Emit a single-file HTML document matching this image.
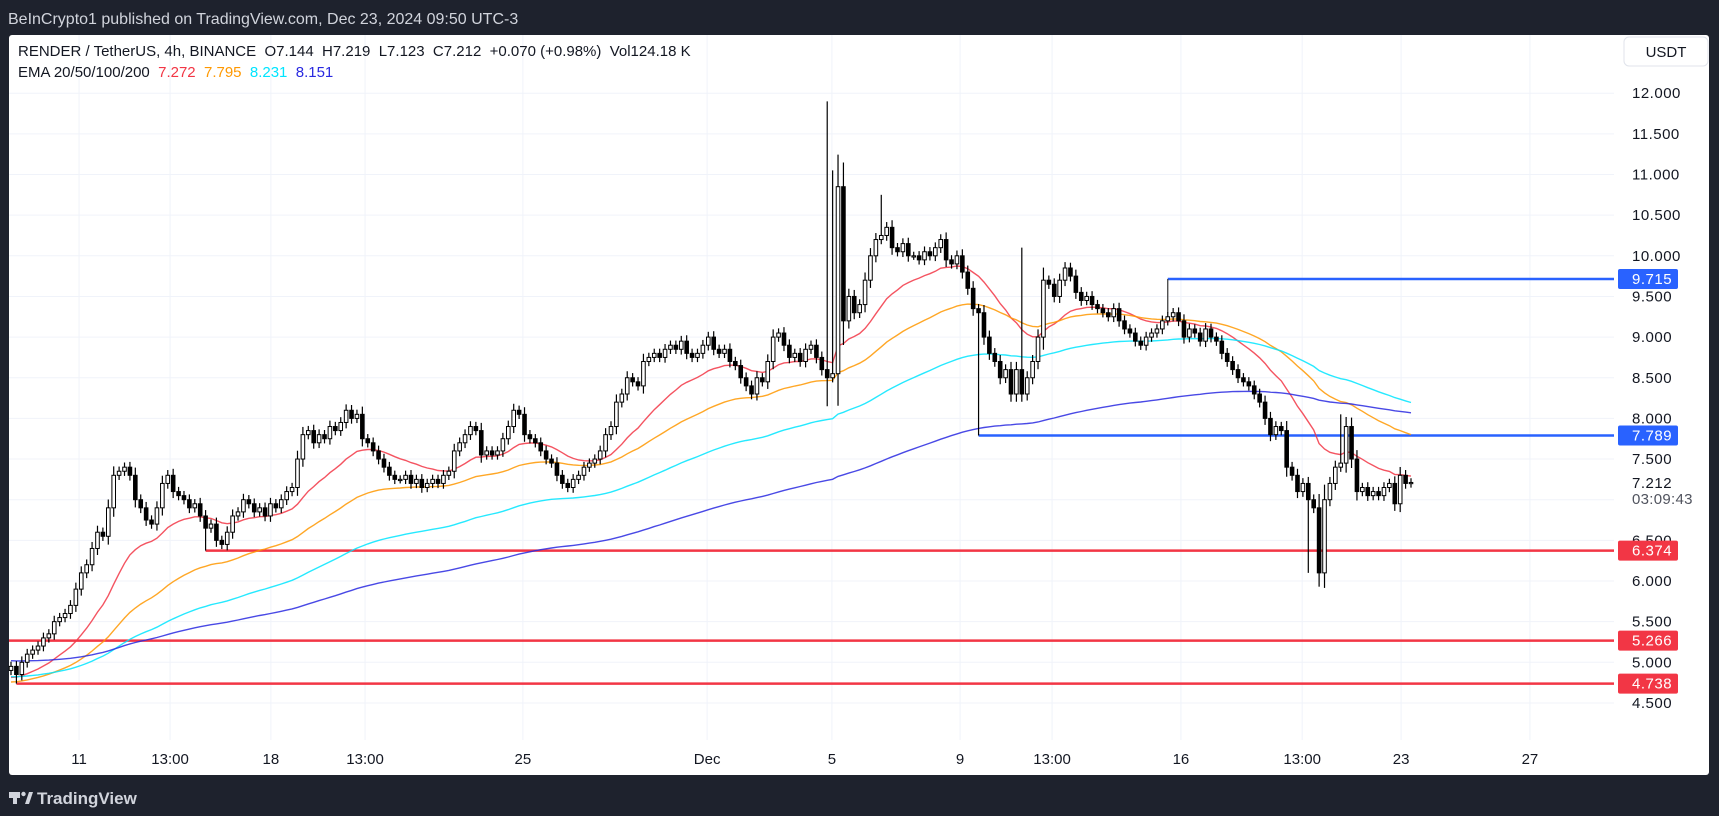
<!DOCTYPE html>
<html><head><meta charset="utf-8">
<style>
body{margin:0;background:#1e222d;font-family:"Liberation Sans",sans-serif;}
#wrap{position:relative;width:1719px;height:816px;overflow:hidden;background:#1e222d;}
</style></head>
<body>
<div id="wrap">
<svg id="svg" width="1719" height="816" xmlns="http://www.w3.org/2000/svg"></svg>
</div>
<script>
const closes=[4.95,4.85,5.0,5.1,5.15,5.2,5.3,5.35,5.5,
5.55,5.6,5.7,5.9,6.1,6.2,6.4,6.6,6.55,6.9,7.3,
7.35,7.4,7.3,7.0,6.9,6.75,6.7,6.9,7.2,7.3,7.1,
7.05,7.0,6.9,6.95,6.8,6.65,6.7,6.5,6.45,6.6,6.8,
6.85,7.0,6.95,6.85,6.9,6.8,6.95,6.9,7.0,7.1,
7.15,7.5,7.8,7.85,7.7,7.8,7.75,7.9,7.85,7.95,
8.1,8.0,8.05,7.75,7.7,7.6,7.5,7.4,7.3,7.25,
7.25,7.3,7.2,7.25,7.15,7.2,7.25,7.2,7.3,7.35,
7.6,7.7,7.8,7.9,7.85,7.55,7.6,7.55,7.6,7.75,
7.9,8.1,8.05,7.8,7.75,7.7,7.6,7.5,7.45,7.3,
7.2,7.15,7.25,7.3,7.4,7.45,7.5,7.6,7.8,7.9,
8.2,8.3,8.5,8.45,8.4,8.7,8.75,8.8,8.75,8.85,
8.9,8.85,8.95,8.8,8.75,8.8,8.9,9.0,8.85,8.8,
8.85,8.7,8.65,8.5,8.4,8.3,8.5,8.45,8.7,9.0,
9.05,8.9,8.75,8.8,8.7,8.85,8.9,8.75,8.6,8.5,
8.55,10.85,9.2,9.5,9.3,9.4,9.7,10.0,10.2,10.25,
10.35,10.1,10.05,10.15,10.0,10.0,9.95,10.05,10.0,10.1,
10.2,9.95,9.9,10.0,9.8,9.6,9.35,9.3,9.0,8.8,
8.7,8.5,8.6,8.3,8.6,8.3,8.5,8.7,9.0,9.7,
9.65,9.5,9.7,9.85,9.75,9.55,9.45,9.5,9.4,9.35,
9.3,9.25,9.35,9.2,9.1,9.05,8.95,8.9,9.0,9.05,
9.1,9.2,9.25,9.3,9.2,9.0,9.1,9.05,8.95,9.1,
9.0,8.95,8.8,8.7,8.6,8.5,8.45,8.4,8.3,8.2,
8.0,7.8,7.9,7.85,7.4,7.3,7.1,7.2,7.0,6.9,
6.1,7.0,7.2,7.4,7.45,7.9,7.5,7.1,7.15,7.05,
7.1,7.05,7.15,7.2,6.95,7.3,7.2,7.212];
const highOverrides={151:11.9,152:11.05,161:10.75,187:10.1,246:8.05};
const lowOverrides={36:6.374,151:8.15,179:7.789,240:6.1,1:4.738};
const emaPeriods=[20,50,100,200];
const emaSeeds=[4.8,4.75,4.82,5.02];
const emaColors=['#f23645','#ff9800','#00e5ff','#2929e0'];
const yTicks=[12,11.5,11,10.5,10,9.5,9,8.5,8,7.5,6.5,6,5.5,5,4.5];
const xLabels=['11','13:00','18','13:00','25','Dec','5','9','13:00','16','13:00','23','27'];
const xLabelDays=[2.16,5.05,8.25,11.24,16.25,22.1,26.06,30.13,33.05,37.14,40.99,44.13,48.22];
const levels=[9.715,7.789,6.374,5.266,4.738];
const levelColors=['#2962ff','#2962ff','#f23645','#f23645','#f23645'];
const levelStartIdx=[214,179,36,0,1];

const svg=document.getElementById('svg');const NS='http://www.w3.org/2000/svg';
function el(t,a,p){const e=document.createElementNS(NS,t);for(const k in a)e.setAttribute(k,a[k]);(p||svg).appendChild(e);return e;}
const Y=p=>93.2+(12-p)*81.3;
const X0=11,X1=1411;const step=(X1-X0)/(closes.length-1);
const X=i=>X0+i*step;
const Xday=d=>X0+d*31.5;
const plotR=1614;

let r=el('rect',{x:9,y:35,width:1700,height:740,fill:'#fff',rx:3});

yTicks.concat([7]).forEach(v=>{const g=el('line',{x1:9,x2:plotR,y1:Y(v),y2:Y(v),stroke:'#f0f3fa','stroke-width':1});});
xLabelDays.forEach(d=>{const g=el('line',{x1:Xday(d),x2:Xday(d),y1:35,y2:740,stroke:'#f0f3fa','stroke-width':1});});

levels.forEach((v,k)=>{const x0=k==3?9:X(levelStartIdx[k]);
 const l=el('line',{x1:x0,x2:plotR,y1:Y(v),y2:Y(v),stroke:levelColors[k],'stroke-width':2.5});
 });
let v1=el('line',{x1:X(214),x2:X(214),y1:Y(9.715),y2:Y(9.3),stroke:'#333','stroke-width':1.2});

const emaVals=emaPeriods.map((n,k)=>{let e=emaSeeds[k];const a=2/(n+1);return closes.map(c=>{e=e+a*(c-e);return e;});});
emaVals.forEach((arr,k)=>{const pl=el('polyline',{points:arr.map((v,i)=>X(i).toFixed(1)+','+Y(v).toFixed(1)).join(' '),fill:'none',stroke:emaColors[k],'stroke-width':1.4,opacity:0.85});
 });

closes.forEach((c,i)=>{const o=i?closes[i-1]:4.9;const top=Math.max(o,c),bot=Math.min(o,c);
 const w=0.05+0.15*(top-bot);
 const h=highOverrides[i]!==undefined?highOverrides[i]:top+w;
 const lo=lowOverrides[i]!==undefined?lowOverrides[i]:bot-w;
 const g=el('g',{});
 
 el('line',{x1:X(i),x2:X(i),y1:Y(h),y2:Y(lo),stroke:'#000','stroke-width':1.2},g);
 const bh=Math.max(1.2,Y(bot)-Y(top));
 el('rect',{x:X(i)-1.8,y:Y(top),width:3.6,height:bh,fill:c>=o?'#fff':'#000',stroke:'#000','stroke-width':1},g);
});

yTicks.forEach(v=>{const t=el('text',{x:1632,y:Y(v)+5,'font-size':15,fill:'#131722','letter-spacing':'0.5'});t.textContent=v.toFixed(3);});
levels.forEach((v,k)=>{const g=el('g',{});
 el('rect',{x:1618,y:Y(v)-10,width:60,height:20,rx:2,fill:levelColors[k]},g);
 const t=el('text',{x:1632,y:Y(v)+5,'font-size':15,fill:'#fff','letter-spacing':'0.5'},g);t.textContent=v.toFixed(3);});
let cp=el('text',{x:1632,y:488,'font-size':15,fill:'#131722','letter-spacing':'0.5'});cp.textContent='7.212';
let cd=el('text',{x:1632,y:504,'font-size':15,fill:'#50535e','letter-spacing':'0.3'});cd.textContent='03:09:43';

xLabels.forEach((s,k)=>{const t=el('text',{x:Xday(xLabelDays[k]),y:764,'font-size':15,fill:'#131722','text-anchor':'middle'});t.textContent=s;});

let ub=el('g',{});
el('rect',{x:1624,y:37,width:84,height:29,rx:5,fill:'#fff',stroke:'#e0e3eb'},ub);
let ut=el('text',{x:1666,y:57,'font-size':15,fill:'#131722','text-anchor':'middle'},ub);ut.textContent='USDT';

let tb=el('text',{x:8,y:24,'font-size':16,fill:'#d1d4dc'});tb.textContent='BeInCrypto1 published on TradingView.com, Dec 23, 2024 09:50 UTC-3';
let lg=el('text',{x:18,y:56,'font-size':15,fill:'#131722'});lg.textContent='RENDER / TetherUS, 4h, BINANCE  O7.144  H7.219  L7.123  C7.212  +0.070 (+0.98%)  Vol124.18 K';lg.style.whiteSpace='pre';
let eg=el('text',{x:18,y:77,'font-size':15,fill:'#131722'});eg.style.whiteSpace='pre';
[['EMA 20/50/100/200  ','#131722'],['7.272  ','#f23645'],['7.795  ','#ff9800'],['8.231  ','#00e5ff'],['8.151','#2929e0']].forEach(([s,c])=>{const ts=el('tspan',{fill:c},eg);ts.textContent=s;});
let bl=el('g',{});
el('rect',{x:9,y:792,width:11,height:6,fill:'#d1d4dc'},bl);el('rect',{x:13,y:792,width:4,height:12,fill:'#d1d4dc'},bl);
el('circle',{cx:23.5,cy:794,r:2.2,fill:'#d1d4dc'},bl);el('polygon',{points:'25,804 29,792 33,792 29,804',fill:'#d1d4dc'},bl);
let blt=el('text',{x:37,y:804,'font-size':17,'font-weight':'bold',fill:'#d1d4dc'},bl);blt.textContent='TradingView';
</script>
</body></html>
